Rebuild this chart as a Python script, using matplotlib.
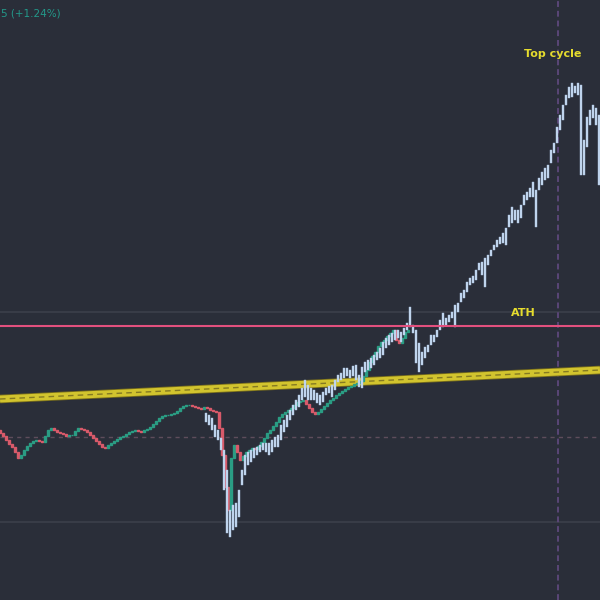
import matplotlib
matplotlib.use("Agg")
import matplotlib.pyplot as plt
import numpy as np

# ---- data (chart units; axis inverted, larger value = lower on chart) ----
candle_x = list(range(0, 411, 3))
candle_close = [433, 436, 440, 444, 447, 452, 458, 455, 450, 446, 443, 441, 440, 441, 442,
                436, 430, 428, 430, 432, 433, 434, 436, 435, 435, 431, 428, 429, 430, 432,
                435, 438, 441, 444, 447, 448, 445, 443, 441, 439, 437, 436, 434, 432, 431,
                430, 431, 432, 430, 429, 427, 424, 421, 418, 416, 415, 415, 414, 413, 411,
                408, 406, 405, 405, 406, 407, 408, 409, 407, 408, 410, 411, 412, 428, 455,
                487, 510, 458, 445, 452, 460, 456, 452, 450, 448, 449, 446, 442, 438, 433,
                430, 426, 422, 417, 414, 412, 410, 408, 405, 402, 401, 400, 404, 408, 412,
                414, 412, 409, 406, 403, 400, 398, 395, 393, 391, 389, 387, 386, 384, 383,
                381, 376, 370, 362, 356, 352, 346, 342, 340, 336, 333, 330, 340, 343, 338,
                332, 330]
candle_open = [430] + candle_close[:-1]

proj_x = list(range(206, 600, 3))
proj_top = [413, 415, 418, 425, 430, 438, 450, 470, 510, 505, 503, 490, 470, 455, 452, 450,
            448, 447, 445, 443, 443, 443, 440, 437, 435, 425, 420, 415, 410, 405, 400, 395,
            388, 380, 385, 388, 390, 393, 395, 392, 388, 386, 385, 380, 375, 373, 368, 368,
            370, 366, 365, 375, 367, 362, 360, 358, 355, 352, 348, 342, 338, 335, 333, 330,
            330, 332, 328, 323, 307, 325, 330, 343, 352, 347, 345, 335, 335, 330, 320, 313,
            318, 315, 312, 305, 303, 293, 290, 282, 278, 276, 270, 263, 262, 258, 255, 250,
            245, 240, 237, 233, 228, 215, 207, 210, 210, 205, 195, 192, 188, 182, 190, 178,
            172, 168, 165, 150, 143, 127, 115, 105, 95, 87, 83, 86, 83, 85, 140, 117, 110,
            105, 108, 115]
proj_bottom = [422, 425, 430, 437, 440, 450, 490, 533, 537, 530, 527, 517, 485, 475, 465, 462,
               458, 455, 452, 450, 452, 455, 452, 447, 447, 440, 432, 427, 420, 415, 410, 407,
               400, 397, 400, 400, 400, 403, 405, 402, 395, 393, 397, 390, 382, 380, 378, 376,
               378, 376, 380, 387, 388, 372, 370, 368, 365, 360, 358, 355, 348, 345, 342, 340,
               338, 342, 335, 330, 327, 333, 363, 372, 365, 358, 352, 345, 342, 337, 330, 327,
               326, 322, 318, 327, 312, 302, 298, 292, 285, 283, 280, 270, 275, 287, 265, 256,
               250, 247, 244, 243, 245, 227, 223, 220, 223, 218, 205, 200, 197, 197, 227, 190,
               185, 180, 178, 163, 153, 143, 130, 120, 105, 98, 97, 93, 95, 175, 175, 147, 125,
               118, 125, 185]

ath_level = 326
grid_levels = [312, 522]
dashed_level = 437
cycle_top_x = 558
trend_x = [0, 600]
trend_y = [399, 370]

# ---- styling ----
bg = "#2a2e39"
fig = plt.figure(figsize=(6, 6), dpi=100, facecolor=bg)
ax = fig.add_axes([0, 0, 1, 1], facecolor=bg)
ax.set_xlim(0, 600)
ax.set_ylim(600, 0)
ax.axis("off")

for g in grid_levels:
    ax.axhline(g, color="#3b3f4b", lw=1.2, zorder=1)
ax.axhline(dashed_level, color="#5e4d5c", lw=1.0, ls=(0, (3, 3)), zorder=1)
ax.axvline(cycle_top_x, color="#5a4677", lw=1.4, ls=(0, (3, 2)), zorder=1)

# trend band
ax.plot(trend_x, trend_y, color="#7a6f1c", lw=6.2, solid_capstyle="butt", zorder=2)
ax.plot(trend_x, trend_y, color="#d2c42e", lw=5.0, solid_capstyle="butt", zorder=2.05)
ax.plot(trend_x, trend_y, color="#857a22", lw=1.0, ls=(0, (4, 3)), zorder=2.1)

# candles
co = np.array(candle_open, float)
cc = np.array(candle_close, float)
up = cc <= co
colors = np.where(up, "#2a9d84", "#d85a6a")
ax.bar(candle_x, cc - co, bottom=co, width=1.8, color=colors, edgecolor=colors,
       linewidth=1.0, zorder=3)

# projection bars
pt = np.array(proj_top, float)
pb = np.array(proj_bottom, float)
ax.bar(proj_x, pb - pt, bottom=pt, width=2.6, color="#c4d8f0", edgecolor="#aec6e4",
       linewidth=0.3, zorder=4)

# ATH line
ax.axhline(ath_level, color="#e2507e", lw=1.5, zorder=5)

ax.text(523, 313, "ATH", color="#e6dc2e", fontsize=8, fontweight="bold",
        ha="center", va="center", family="DejaVu Sans", zorder=6)
ax.text(553, 54, "Top cycle", color="#e6dc2e", fontsize=8, fontweight="bold",
        ha="center", va="center", family="DejaVu Sans", zorder=6)
ax.text(1, 13, "5 (+1.24%)", color="#23998a", fontsize=7.5,
        ha="left", va="center", zorder=6)

fig.savefig("out.png", dpi=100, facecolor=bg)
